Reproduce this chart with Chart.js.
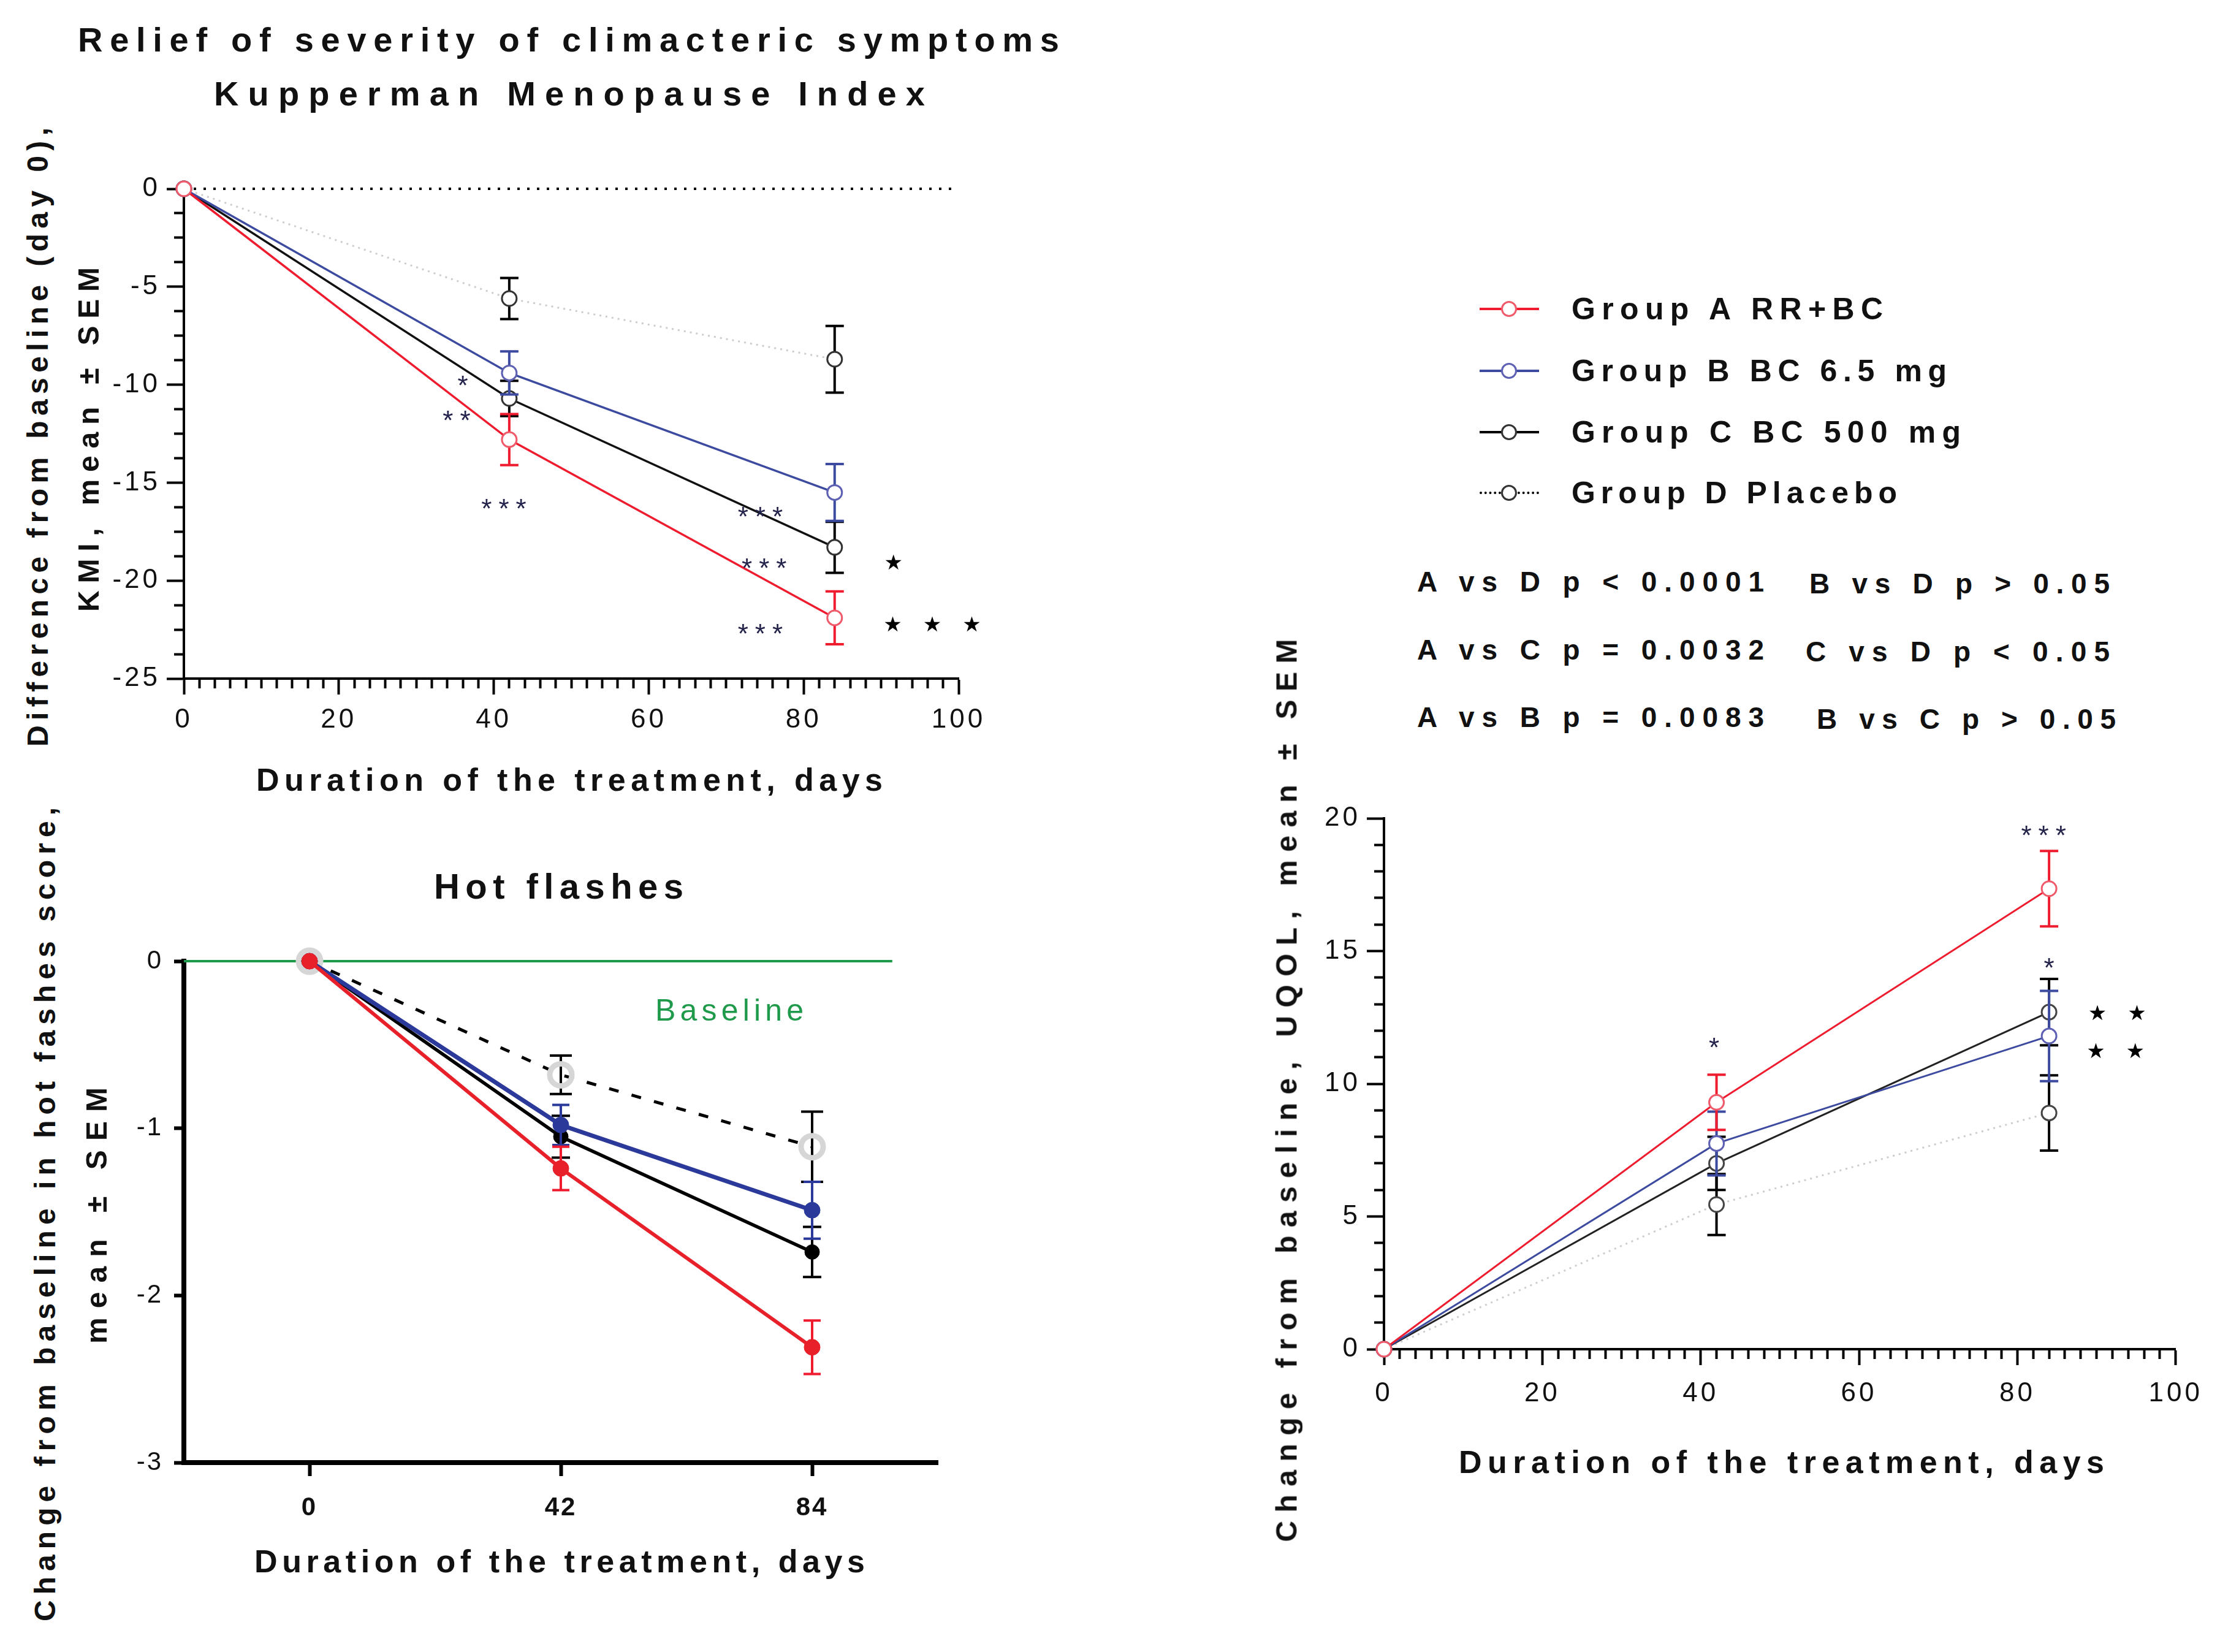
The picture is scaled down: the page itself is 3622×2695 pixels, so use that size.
<!DOCTYPE html>
<html>
<head>
<meta charset="utf-8">
<title>Relief of severity of climacteric symptoms</title>
<script src="https://cdn.jsdelivr.net/npm/chart.js@4.4.1/dist/chart.umd.min.js"></script>
<style>
  html, body { margin: 0; padding: 0; background: #fff; }
  body { position: relative; width: 3622px; height: 2695px; overflow: hidden; font-family: "Liberation Sans", Arial, sans-serif; }
  canvas { position: absolute; }
  .txt { position: absolute; white-space: nowrap; color: #111; }
  .key-line { position: absolute; height: 0; }
  .key-dot { position: absolute; border-radius: 50%; background: #fff; box-sizing: border-box; }
</style>
</head>
<body>
<canvas id="kmi" width="1494" height="997" style="left:150px;top:260px"></canvas>
<canvas id="hot" width="1440" height="1016" style="left:150px;top:1520px"></canvas>
<canvas id="uqol" width="1506" height="1066" style="left:2108px;top:1285px"></canvas>
<script>
// values (days of treatment)
const days = [0, 42, 84];
const groupNames = ['Group A RR+BC', 'Group B BC 6.5 mg', 'Group C BC 500 mg', 'Group D Placebo'];

// Kupperman Menopause Index, difference from day 0 (mean, SEM)
const kmiA = [0, -12.8, -21.9];
const kmiB = [0, -9.4, -15.5];
const kmiC = [0, -10.7, -18.3];
const kmiD = [0, -5.6, -8.7];
const kmiSemA = [0, 1.3, 1.35];
const kmiSemB = [0, 1.1, 1.45];
const kmiSemC = [0, 0.9, 1.3];
const kmiSemD = [0, 1.05, 1.7];

// hot flashes score, change from baseline
const hotA = [0, -1.24, -2.31];
const hotB = [0, -0.98, -1.49];
const hotC = [0, -1.05, -1.74];
const hotD = [0, -0.68, -1.11];
const hotSemA = [0, 0.13, 0.16];
const hotSemB = [0, 0.12, 0.17];
const hotSemC = [0, 0.125, 0.15];
const hotSemD = [0, 0.115, 0.21];

// UQOL, change from baseline
const uqolA = [0, 9.3, 17.35];
const uqolB = [0, 7.75, 11.8];
const uqolC = [0, 7.0, 12.7];
const uqolD = [0, 5.45, 8.9];
const uqolSemA = [0, 1.04, 1.42];
const uqolSemB = [0, 1.2, 1.7];
const uqolSemC = [0, 1.0, 1.25];
const uqolSemD = [0, 1.15, 1.42];

// significance marks: [day, value, text]
const kmiMarks = [
  [36, -9.7, '*'], [35.2, -11.5, '**'], [41.3, -16.0, '***'],
  [74.4, -16.4, '***'], [74.9, -19.05, '***'], [74.4, -22.4, '***'],
  [91.6, -19.05, '★'], [96.6, -22.2, '★★★']
];
const uqolMarks = [
  [41.7, 11.6, '*'], [83.3, 19.6, '***'], [84, 14.6, '*'],
  [92.6, 12.7, '★★'], [92.4, 11.25, '★★']
];

const pValues = [
  ['A vs D p < 0.0001', 'B vs D p > 0.05'],
  ['A vs C p = 0.0032', 'C vs D p < 0.05'],
  ['A vs B p = 0.0083', 'B vs C p > 0.05']
];

const RED = '#ee1c2e', RED_PT = '#f05a6a';
const BLUE = '#3c4a9f', BLUE_PT = '#5d60b3';
const GREY_LINE = '#cdcdcd';
const FONT = '"Liberation Sans", Arial, sans-serif';

Chart.defaults.font.family = FONT;
Chart.defaults.color = '#111';

const pts = ys => days.map((d, i) => ({ x: d, y: ys[i] }));
const isMajor = (c, every) => c.tick && Math.abs(c.tick.value % every) < 1e-9;

// error bars, drawn just under each series
const errorBars = {
  id: 'errorBars',
  beforeDatasetDraw(chart, args) {
    const ds = chart.data.datasets[args.index];
    if (!ds.sem) return;
    const { ctx, scales: { x, y } } = chart;
    ctx.save();
    ctx.setLineDash([]);
    ctx.strokeStyle = ds.barColor;
    ctx.lineWidth = ds.barWidth || 4;
    ds.data.forEach((p, i) => {
      const e = ds.sem[i];
      if (!e) return;
      const px = x.getPixelForValue(p.x);
      const top = y.getPixelForValue(p.y + e);
      const bot = y.getPixelForValue(p.y - e);
      const w = ds.capHalf;
      ctx.beginPath();
      ctx.moveTo(px, top); ctx.lineTo(px, bot);
      ctx.moveTo(px - w, top); ctx.lineTo(px + w, top);
      ctx.moveTo(px - w, bot); ctx.lineTo(px + w, bot);
      ctx.stroke();
    });
    ctx.restore();
  }
};

// asterisks and stars beside the points
function marksPlugin(marks) {
  return {
    id: 'marks',
    afterDatasetsDraw(chart) {
      const { ctx, scales: { x, y } } = chart;
      ctx.save();
      marks.forEach(([mx, my, t]) => {
        const star = t.includes('★');
        const size = star ? 34 : 44;
        const gap = star ? 34 : 11;
        ctx.font = size + 'px ' + (star ? '"DejaVu Sans", sans-serif' : FONT);
        ctx.letterSpacing = gap + 'px';
        ctx.fillStyle = star ? '#000' : '#22224a';
        ctx.textAlign = 'center';
        ctx.textBaseline = 'alphabetic';
        const lift = star ? 0.37 : 0.58;
        ctx.fillText(t, x.getPixelForValue(mx) + gap / 2, y.getPixelForValue(my) + lift * size);
      });
      ctx.restore();
    }
  };
}

const spaced = px => ({
  id: 'spaced',
  beforeLayout(c) { c.ctx.letterSpacing = px + 'px'; },
  beforeDraw(c) { c.ctx.letterSpacing = px + 'px'; }
});

function openSeries(label, ys, sem, line, point, bar, extra) {
  return Object.assign({
    label, data: pts(ys), sem, barColor: bar, capHalf: 15,
    borderColor: line, borderWidth: 3.5,
    pointRadius: 12, pointBorderWidth: 3, pointBorderColor: point, pointBackgroundColor: '#fff',
    clip: false
  }, extra || {});
}

function dayAxis(pad) {
  return {
    type: 'linear', min: 0, max: 100,
    afterFit: s => { s.height = 150; },
    border: { color: '#000', width: 4 },
    grid: {
      drawOnChartArea: false, tickLength: 26, tickWidth: 4, tickColor: '#000',
      tickBorderDash: c => isMajor(c, 20) ? [] : [14, 400]
    },
    ticks: {
      stepSize: 2, autoSkip: false, maxRotation: 0, padding: pad, font: { size: 44 },
      callback: v => Math.abs(v % 20) < 1e-9 ? String(v) : ''
    }
  };
}

function valueAxis(min, max, step, every) {
  return {
    type: 'linear', min, max,
    afterFit: s => { s.width = 150; },
    border: { color: '#000', width: 4 },
    grid: {
      drawOnChartArea: false, tickLength: 28, tickWidth: 4, tickColor: '#000',
      tickBorderDash: c => isMajor(c, every) ? [] : [0, 12, 14, 400]
    },
    ticks: {
      stepSize: step, autoSkip: false, padding: 10, font: { size: 44 },
      callback: v => Math.abs(v % every) < 1e-9 ? String(v) : ''
    }
  };
}

const baseOptions = padding => ({
  responsive: false, animation: false, devicePixelRatio: 1,
  layout: { padding },
  plugins: { legend: { display: false }, tooltip: { enabled: false } },
  elements: { line: { tension: 0 } }
});

// ---- Kupperman Menopause Index ----
new Chart(document.getElementById('kmi'), {
  type: 'line',
  data: {
    datasets: [
      openSeries(groupNames[0], kmiA, kmiSemA, RED, RED_PT, RED),
      openSeries(groupNames[1], kmiB, kmiSemB, BLUE, BLUE_PT, BLUE),
      openSeries(groupNames[2], kmiC, kmiSemC, '#111', '#333', '#000'),
      openSeries(groupNames[3], kmiD, kmiSemD, GREY_LINE, '#333', '#000', { borderDash: [3, 7], borderWidth: 3 }),
      { label: 'day 0', data: [{ x: 0, y: 0 }, { x: 100, y: 0 }], borderColor: '#000', borderWidth: 4,
        borderDash: [4, 12], pointRadius: 0, clip: false }
    ]
  },
  options: Object.assign(baseOptions({ top: 48, right: 80, left: 0, bottom: 0 }), {
    scales: { x: dayAxis(15), y: valueAxis(-25, 0, 1.25, 5) }
  }),
  plugins: [errorBars, marksPlugin(kmiMarks), spaced(5)]
});

// ---- Hot flashes ----
new Chart(document.getElementById('hot'), {
  type: 'line',
  data: {
    datasets: [
      { label: groupNames[0], data: pts(hotA), sem: hotSemA, barColor: RED, capHalf: 14,
        borderColor: '#e8202a', borderWidth: 6, pointRadius: 13, pointBackgroundColor: '#e8202a',
        pointBorderColor: '#e8202a', pointBorderWidth: 1, clip: false },
      { label: groupNames[1], data: pts(hotB), sem: hotSemB, barColor: '#2b3a9a', capHalf: 14,
        borderColor: '#2b3a9a', borderWidth: 7, pointRadius: 13, pointBackgroundColor: '#2b3a9a',
        pointBorderColor: '#2b3a9a', pointBorderWidth: 1, clip: false },
      { label: groupNames[2], data: pts(hotC), sem: hotSemC, barColor: '#000', capHalf: 15,
        borderColor: '#000', borderWidth: 5.5, pointRadius: 12, pointBackgroundColor: '#000',
        pointBorderColor: '#000', pointBorderWidth: 1, clip: false },
      { label: groupNames[3], data: pts(hotD), sem: hotSemD, barColor: '#000', capHalf: 18,
        borderColor: '#000', borderWidth: 5, borderDash: [16, 22], pointRadius: 18,
        pointBackgroundColor: 'rgba(255,255,255,0)', pointBorderColor: '#d6d6d6', pointBorderWidth: 9, clip: false },
      { label: 'Baseline', data: [{ x: -21, y: 0 }, { x: 97.4, y: 0 }], borderColor: '#1f9a4b',
        borderWidth: 4, pointRadius: 0, clip: false }
    ]
  },
  options: Object.assign(baseOptions({ top: 48, right: 60, left: 0, bottom: 0 }), {
    scales: {
      x: {
        type: 'linear', min: -21, max: 105,
        afterBuildTicks: s => { s.ticks = days.map(v => ({ value: v })); },
        afterFit: s => { s.height = 150; },
        border: { color: '#000', width: 8 },
        grid: { drawOnChartArea: false, tickLength: 22, tickWidth: 6, tickColor: '#000' },
        ticks: { autoSkip: false, maxRotation: 0, padding: 27, font: { size: 42, weight: 'bold' },
          callback: v => String(v) }
      },
      y: {
        type: 'linear', min: -3, max: 0,
        afterFit: s => { s.width = 150; },
        border: { color: '#000', width: 8 },
        grid: { drawOnChartArea: false, tickLength: 16, tickWidth: 6, tickColor: '#000' },
        ticks: { stepSize: 1, padding: 18, font: { size: 42 }, callback: v => String(v) }
      }
    }
  }),
  plugins: [errorBars, spaced(3)]
});

// ---- UQOL ----
new Chart(document.getElementById('uqol'), {
  type: 'line',
  data: {
    datasets: [
      openSeries(groupNames[0], uqolA, uqolSemA, RED, RED_PT, RED, { borderWidth: 3 }),
      openSeries(groupNames[1], uqolB, uqolSemB, BLUE, BLUE_PT, BLUE, { borderWidth: 3 }),
      openSeries(groupNames[2], uqolC, uqolSemC, '#222', '#444', '#000', { borderWidth: 3 }),
      openSeries(groupNames[3], uqolD, uqolSemD, GREY_LINE, '#444', '#000', { borderDash: [3, 7], borderWidth: 3 })
    ]
  },
  options: Object.assign(baseOptions({ top: 50, right: 50, left: 0, bottom: 0 }), {
    scales: { x: dayAxis(20), y: valueAxis(0, 20, 1, 5) }
  }),
  plugins: [errorBars, marksPlugin(uqolMarks), spaced(5)]
});

// ---- text placed as page text, spread to the measured width ----
function makeText(str, size, o) {
  const el = document.createElement('div');
  el.className = 'txt';
  el.textContent = str;
  el.style.font = `${o.weight || 'bold'} ${size}px ${FONT}`;
  el.style.lineHeight = size + 'px';
  if (o.color) el.style.color = o.color;
  document.body.appendChild(el);
  return el;
}

function spread(el, str, span) {
  const n = Array.from(str).length;
  const natural = el.getBoundingClientRect().width;
  el.style.letterSpacing = (n > 1 ? (span - natural) / (n - 1) : 0) + 'px';
}

function label(str, x1, x2, cy, size, o = {}) {
  const el = makeText(str, size, o);
  spread(el, str, x2 - x1);
  el.style.left = x1 + 'px';
  el.style.top = (cy - size / 2) + 'px';
}

function vlabel(str, cx, y1, y2, size, o = {}) {
  const el = makeText(str, size, o);
  const span = y2 - y1;
  spread(el, str, span);
  el.style.left = (cx - span / 2) + 'px';
  el.style.top = ((y1 + y2) / 2 - size / 2) + 'px';
  el.style.transformOrigin = `${span / 2}px ${size / 2}px`;
  el.style.transform = 'rotate(-90deg)';
}

label('Relief of severity of climacteric symptoms', 127, 1728, 65, 56);
label('Kupperman Menopause Index', 349, 1509, 153, 56);
label('Duration of the treatment, days', 418, 1440, 1272, 52);
vlabel('Difference from baseline (day 0),', 62, 208, 1218, 48);
vlabel('KMI, mean ± SEM', 145, 436, 998, 48);

label('Hot flashes', 708, 1115, 1446, 58);
label('Baseline', 1069, 1311, 1648, 50, { weight: 'normal', color: '#1f9a4b' });
label('Duration of the treatment, days', 415, 1411, 2547, 52);
vlabel('Change from baseline in hot fashes score,', 74, 1317, 2645, 48);
vlabel('mean ± SEM', 158, 1774, 2192, 48);

vlabel('Change from baseline, UQOL, mean ± SEM', 2099, 1042, 2515, 48);
label('Duration of the treatment, days', 2380, 3433, 2385, 52);

// legend
const keyRows = [504, 605, 705, 804];
const keyEnds = [3072, 3176, 3199, 3095];
const keyStyles = [
  { line: `4px solid ${RED}`, dot: RED_PT },
  { line: `4px solid ${BLUE}`, dot: BLUE_PT },
  { line: '4px solid #000', dot: '#333' },
  { line: '4px dotted #000', dot: '#333' }
];
groupNames.forEach((name, i) => {
  const cy = keyRows[i];
  const ln = document.createElement('div');
  ln.className = 'key-line';
  ln.style.left = '2414px';
  ln.style.width = '97px';
  ln.style.top = (cy - 2) + 'px';
  ln.style.borderTop = keyStyles[i].line;
  document.body.appendChild(ln);
  const dot = document.createElement('div');
  dot.className = 'key-dot';
  dot.style.left = (2462 - 13) + 'px';
  dot.style.top = (cy - 13) + 'px';
  dot.style.width = '26px';
  dot.style.height = '26px';
  dot.style.border = `3px solid ${keyStyles[i].dot}`;
  document.body.appendChild(dot);
  label(name, 2564, keyEnds[i], cy, 50);
});

// p values
const pRows = [949, 1060, 1170];
const pCols = [[2312, 2878], [2952, 3442]];
pValues.forEach((row, r) => {
  row.forEach((txt, c) => label(txt, pCols[c][0] + (c === 1 && r === 2 ? 12 : 0) - (c === 1 && r === 1 ? 6 : 0),
    pCols[c][1] + (c === 1 && r === 2 ? 10 : 0), pRows[r] + (c === 1 ? 3 : 0), 46));
});
</script>
</body>
</html>
